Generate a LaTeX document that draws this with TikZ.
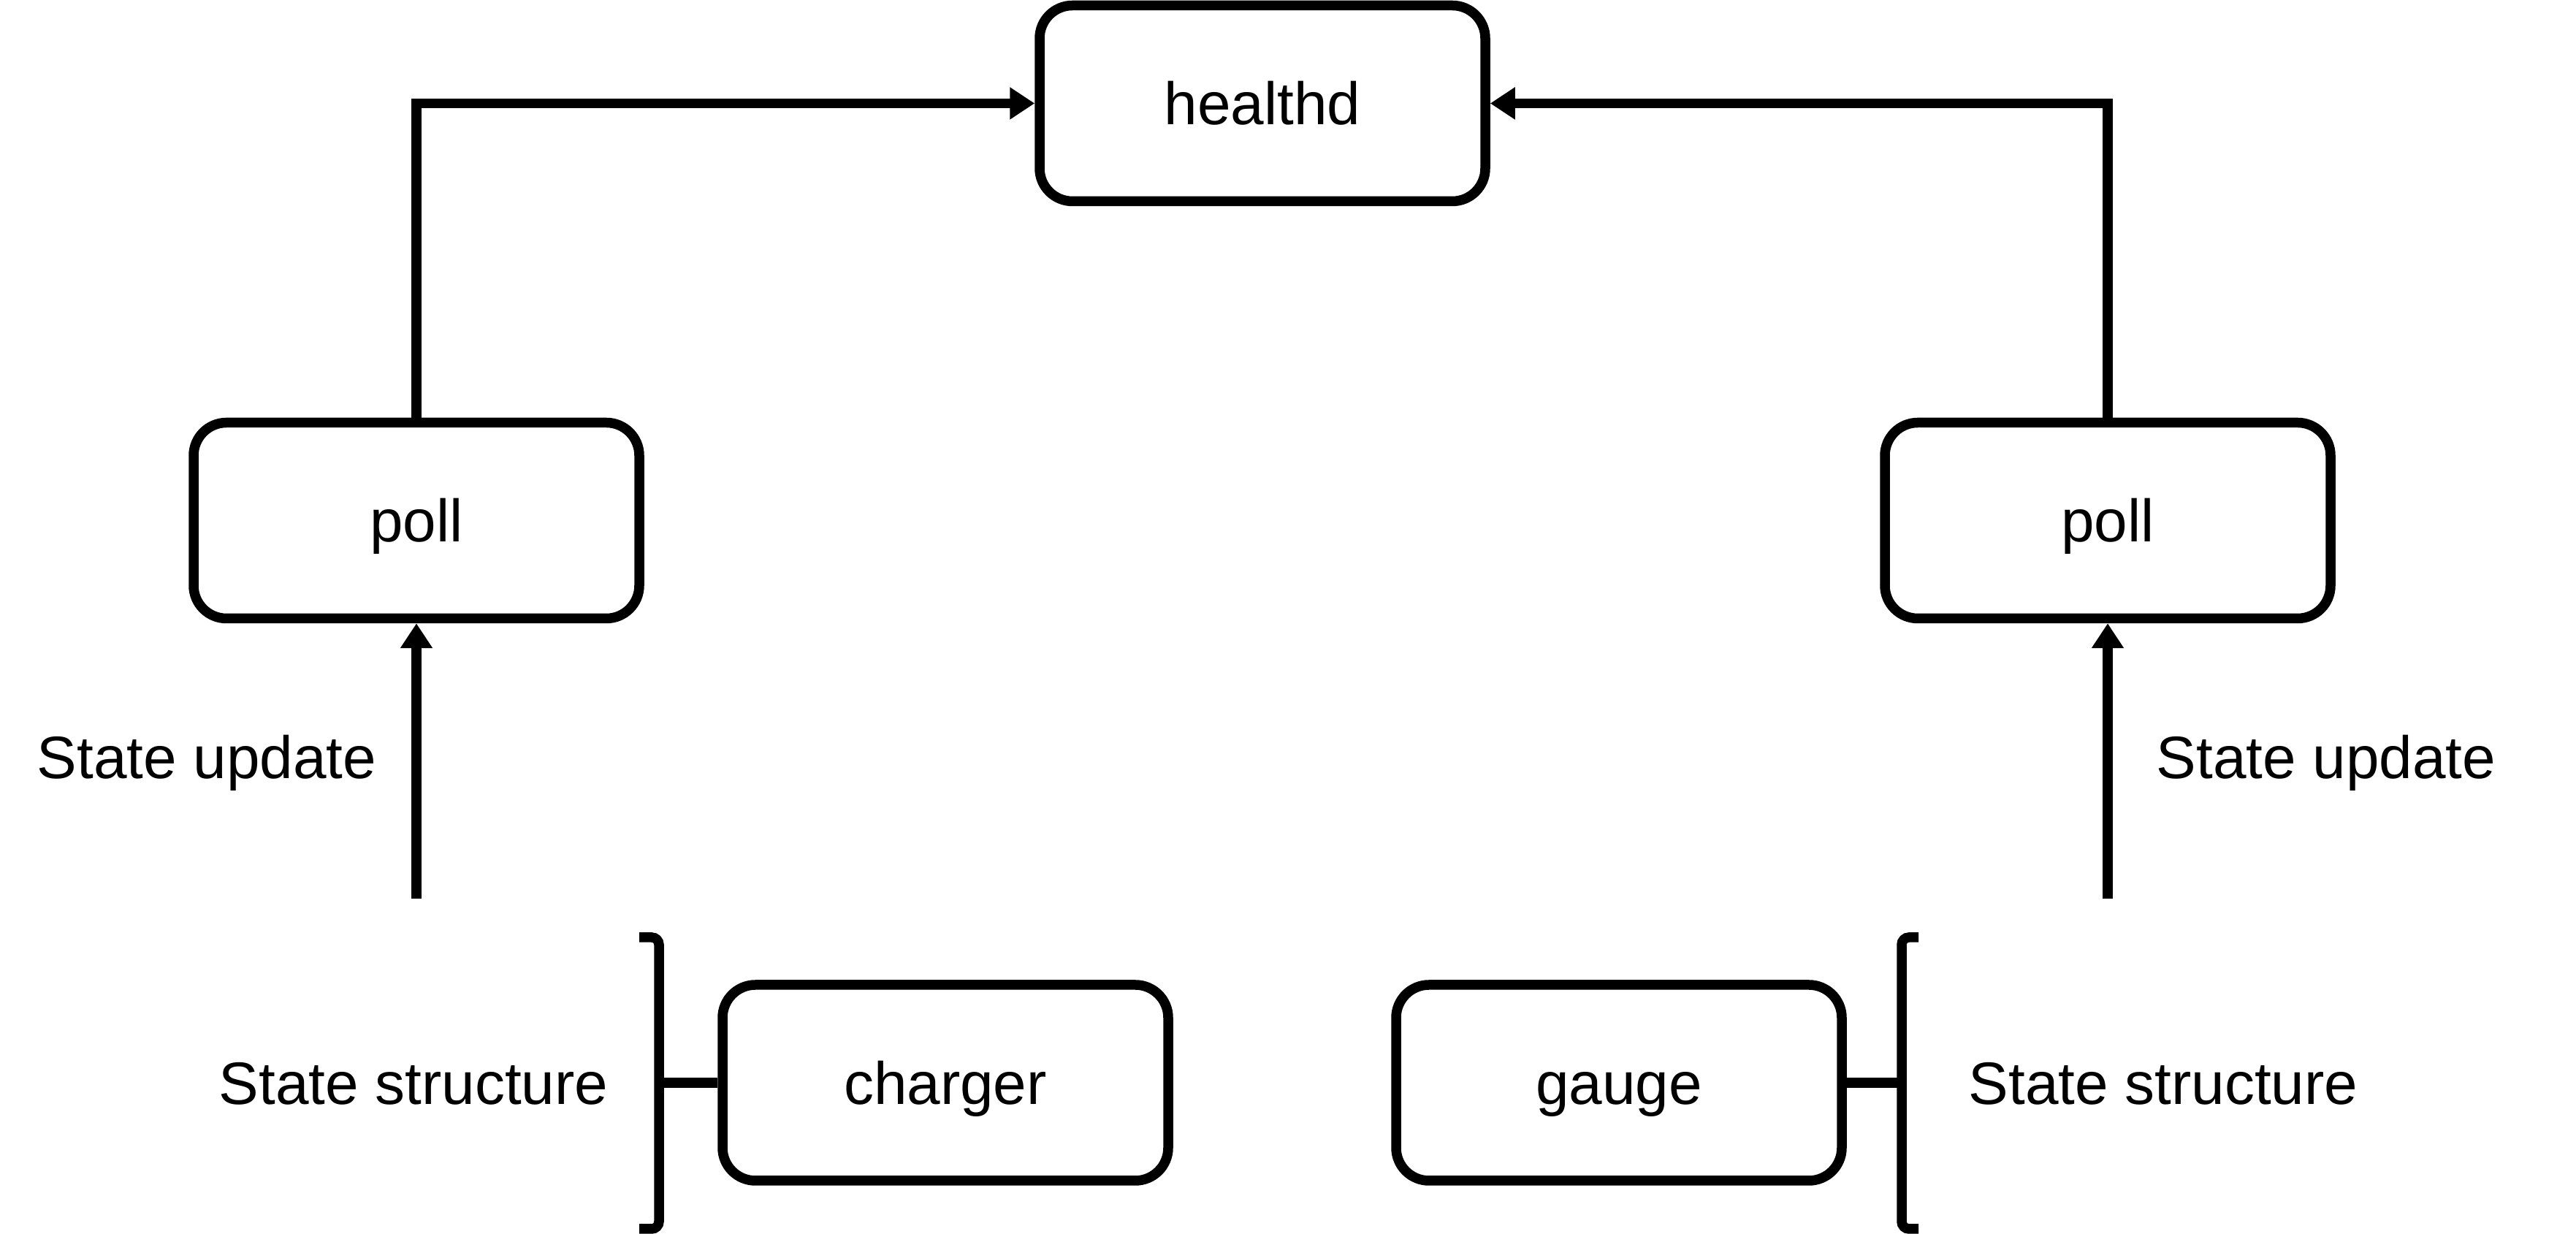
\documentclass[tikz,border=0pt]{standalone}
\usepackage{fontspec}
\setmainfont{Liberation Sans}
\usetikzlibrary{arrows.meta}

\begin{document}
\begin{tikzpicture}[
  every node/.style={font=\fontsize{23.3}{28}\selectfont, text height=0.59cm, text depth=0pt},
  box/.style={draw, line width=0.135cm, rounded corners=0.45cm, minimum width=6.1cm, minimum height=2.68cm},
  lbl/.style={inner sep=0pt},
  conn/.style={line width=0.135cm},
  tip/.style={-{Triangle[length=0.34cm,width=0.42cm]}}
]
\useasboundingbox (0,0) rectangle (35.26,16.89);
\path (17.28,15.475) node[box] (hd) {healthd}
		(5.70,9.765) node[box] (pl) {poll}
		(28.85,9.765) node[box] (pr) {poll}
		(12.94,2.07) node[box] (ch) {charger}
		(22.16,2.07) node[box] (ga) {gauge}
		(2.83,6.525) node[lbl] (ul) {State update}
		(31.84,6.525) node[lbl] (ur) {State update}
		(5.66,2.07) node[lbl] (sl) {State structure}
		(29.61,2.07) node[lbl] (sr) {State structure}
		;
\coordinate (ql) at (5.70,4.59);
\coordinate (qr) at (28.85,4.59);
\coordinate (bl) at (9.02,2.07);
\coordinate (br) at (26.03,2.07);
\draw [conn,tip] (node cs:name=pl,anchor=north) |- (node cs:name=hd,anchor=west);
\draw [conn,tip] (node cs:name=pr,anchor=north) |- (node cs:name=hd,anchor=east);
\draw [conn,tip] (ql) -- (node cs:name=pl,anchor=south);
\draw [conn,tip] (qr) -- (node cs:name=pr,anchor=south);
% brackets
\draw [conn,rounded corners=0.1cm] (8.75,4.06) -- (9.02,4.06) -- (9.02,0.07) -- (8.75,0.07);
\draw [conn,rounded corners=0.1cm] (26.26,4.06) -- (26.03,4.06) -- (26.03,0.07) -- (26.26,0.07);
\draw [conn] (node cs:name=ch,anchor=west) -- (bl);
\draw [conn] (node cs:name=ga,anchor=east) -- (br);
\end{tikzpicture}
\end{document}
